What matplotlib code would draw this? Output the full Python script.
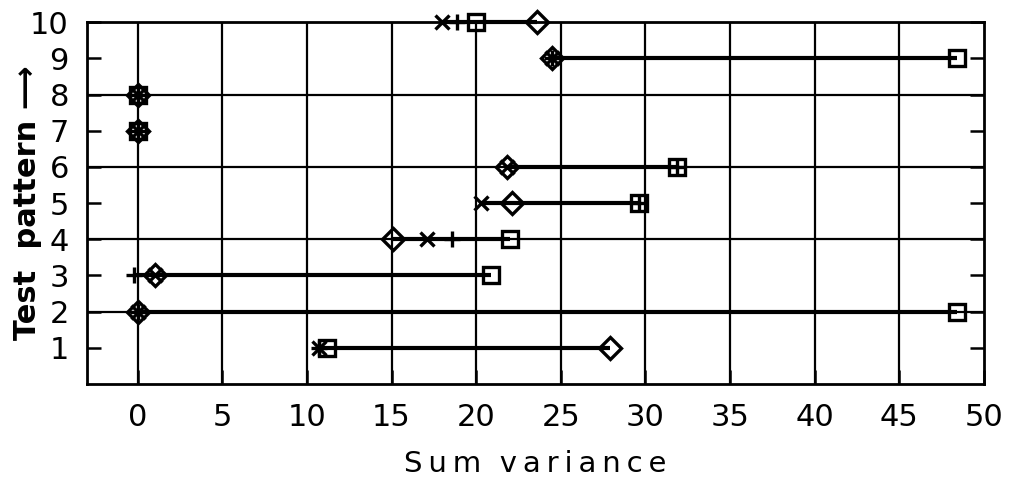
import matplotlib
matplotlib.use("Agg")
import matplotlib.pyplot as plt

# data (sum variance per test pattern, four methods)
patterns = [1, 2, 3, 4, 5, 6, 7, 8, 9, 10]
cross_vals = [10.7, 0.0, 1.0, 17.1, 20.3, 21.8, 0.0, 0.0, 24.5, 18.0]
plus_vals = [10.7, 0.0, -0.2, 18.6, 29.6, 31.9, 0.0, 0.0, 24.5, 18.9]
square_vals = [11.2, 48.4, 20.9, 22.0, 29.6, 31.9, 0.0, 0.0, 48.4, 20.0]
diamond_vals = [27.9, 0.0, 1.0, 15.1, 22.1, 21.8, 0.0, 0.0, 24.5, 23.6]

x_ticks = [0, 5, 10, 15, 20, 25, 30, 35, 40, 45, 50]
grid_y = [2, 4, 6, 8]

plt.rcParams['font.family'] = ['DejaVu Sans']

fig = plt.figure(figsize=(10.11, 4.83), dpi=100)
ax = fig.add_axes([0.086, 0.205, 0.887, 0.749])

# connecting line from smallest to largest value of each pattern
for i, p in enumerate(patterns):
    vals = [cross_vals[i], plus_vals[i], square_vals[i], diamond_vals[i]]
    ax.plot([min(vals), max(vals)], [p, p], color='black', lw=3, zorder=3,
            solid_capstyle='butt', clip_on=False)

ax.plot(cross_vals, patterns, ls='none', marker='x', ms=10, mew=2.4,
        color='black', zorder=4, clip_on=False)
ax.plot(plus_vals, patterns, ls='none', marker='+', ms=11, mew=2.4,
        color='black', zorder=4, clip_on=False)
ax.plot(square_vals, patterns, ls='none', marker='s', ms=11, mew=2.4,
        mfc='none', mec='black', zorder=4, clip_on=False)
ax.plot(diamond_vals, patterns, ls='none', marker='D', ms=11, mew=2.4,
        mfc='none', mec='black', zorder=5, clip_on=False)

# grid
for gx in x_ticks[:-1]:
    ax.axvline(gx, color='black', lw=1.6, zorder=1)
for gy in grid_y:
    ax.axhline(gy, color='black', lw=1.6, zorder=1)

ax.set_xlim(-3, 50)
ax.set_ylim(0, 10)
ax.set_xticks(x_ticks)
ax.set_yticks(patterns)

ax.tick_params(axis='both', direction='in', length=10, width=1.8,
               labelsize=22, colors='black')
ax.tick_params(axis='x', pad=14)
ax.tick_params(axis='y', pad=13, right=True)

for s in ax.spines.values():
    s.set_linewidth(2)
    s.set_color('black')

ax.set_xlabel('S\u2009u\u2009m  v\u2009a\u2009r\u2009i\u2009a\u2009n\u2009c\u2009e',
              fontsize=21, va='center')
ax.xaxis.set_label_coords(0.5, -0.22)
ax.set_ylabel('Test  pattern \u27f6', fontsize=22, fontweight='bold',
              va='center')
ax.yaxis.set_label_coords(-0.066, 0.5)

fig.savefig('out.png', dpi=100)
